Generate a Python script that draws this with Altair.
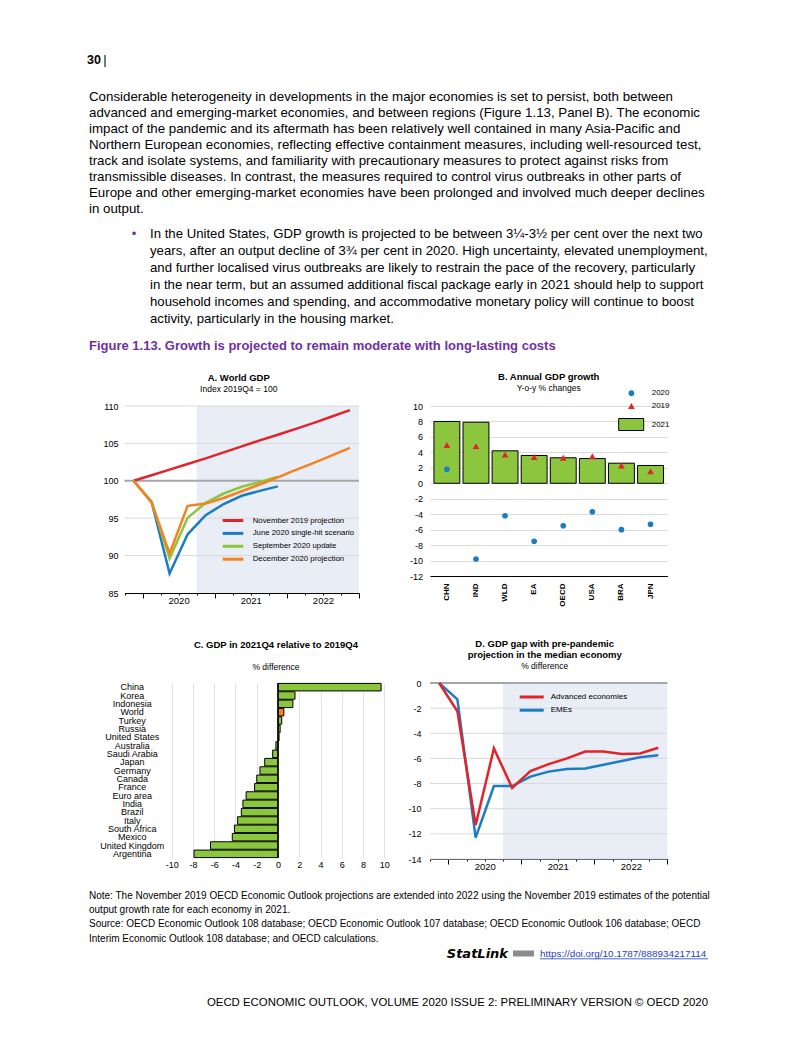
import altair as alt
import pandas as pd

FONT = "Liberation Sans"
RED = "#E3232B"
BLUE = "#1B7CC4"
GREEN = "#8CC63F"
ORANGE = "#F5821F"
SHADE = "#E9EDF5"
GRID = "#D9D9D9"
PURPLE = "#7030A0"
HYPHEN_LABEL = "'' + datum.value"

# ---------------- page text ----------------
page_number = "30"
paragraph = [
    "Considerable heterogeneity in developments in the major economies is set to persist, both between",
    "advanced and emerging-market economies, and between regions (Figure 1.13, Panel B). The economic",
    "impact of the pandemic and its aftermath has been relatively well contained in many Asia-Pacific and",
    "Northern European economies, reflecting effective containment measures, including well-resourced test,",
    "track and isolate systems, and familiarity with precautionary measures to protect against risks from",
    "transmissible diseases. In contrast, the measures required to control virus outbreaks in other parts of",
    "Europe and other emerging-market economies have been prolonged and involved much deeper declines",
    "in output.",
]
bullet = [
    "In the United States, GDP growth is projected to be between 3¼-3½ per cent over the next two",
    "years, after an output decline of 3¾ per cent in 2020. High uncertainty, elevated unemployment,",
    "and further localised virus outbreaks are likely to restrain the pace of the recovery, particularly",
    "in the near term, but an assumed additional fiscal package early in 2021 should help to support",
    "household incomes and spending, and accommodative monetary policy will continue to boost",
    "activity, particularly in the housing market.",
]
figure_title = "Figure 1.13. Growth is projected to remain moderate with long-lasting costs"
notes = [
    "Note: The November 2019 OECD Economic Outlook projections are extended into 2022 using the November 2019 estimates of the potential",
    "output growth rate for each economy in 2021.",
    "Source: OECD Economic Outlook 108 database; OECD Economic Outlook 107 database; OECD Economic Outlook 106 database; OECD",
    "Interim Economic Outlook 108 database; and OECD calculations.",
]
statlink = "StatLink"
statlink_url = "https://doi.org/10.1787/888934217114"
page_footer = "OECD ECONOMIC OUTLOOK, VOLUME 2020 ISSUE 2: PRELIMINARY VERSION © OECD 2020"

# ---------------- Panel A: World GDP (index 2019Q4 = 100) ----------------
a_quarter = [0, 1, 2, 3, 4, 5, 6, 7, 8, 9, 10, 11, 12]   # 2019Q4 ... 2022Q4
a_nov2019 = [100, 100.75, 101.5, 102.25, 103.0, 103.8, 104.6, 105.4, 106.15, 106.95, 107.75, 108.6, 109.45]
a_jun2020 = [100, 97.2, 87.6, 92.85, 95.4, 96.9, 98.0, 98.65, 99.25]
a_sep2020 = [100, 97.2, 89.6, 95.05, 97.05, 98.3, 99.2, 99.85, 100.55]
a_dec2020 = [100, 97.1, 90.3, 96.65, 96.95, 97.7, 98.6, 99.5, 100.45, 101.45, 102.4, 103.4, 104.4]
a_series = ["November 2019 projection", "June 2020 single-hit scenario",
            "September 2020 update", "December 2020 projection"]
a_colors = [RED, BLUE, GREEN, ORANGE]
a_grid = [90, 95, 105, 110]
a_base = [100]
proj_start = [3.5]
proj_end = [12.5]
year_pos = [2.5, 6.5, 10.5]
year_names = ["2020", "2021", "2022"]

# ---------------- Panel B: Annual GDP growth ----------------
b_codes = ["CHN", "IND", "WLD", "EA", "OECD", "USA", "BRA", "JPN"]
b_2021 = [8.0, 7.9, 4.2, 3.6, 3.3, 3.2, 2.6, 2.3]
b_2019 = [4.95, 4.8, 3.7, 3.4, 3.3, 3.5, 2.3, 1.55]
b_2020 = [1.8, -9.8, -4.2, -7.5, -5.5, -3.7, -6.0, -5.3]

# ---------------- Panel C: GDP in 2021Q4 relative to 2019Q4 ----------------
c_names = ["China", "Korea", "Indonesia", "World", "Turkey", "Russia", "United States",
           "Australia", "Saudi Arabia", "Japan", "Germany", "Canada", "France", "Euro area",
           "India", "Brazil", "Italy", "South Africa", "Mexico", "United Kingdom", "Argentina"]
c_values = [9.7, 1.6, 1.4, 0.55, 0.35, 0.2, 0.1, -0.2, -0.5, -1.25, -1.7, -2.0, -2.2, -3.0,
            -3.3, -3.45, -3.8, -4.1, -4.3, -6.35, -7.9]
c_zero = [0]

# ---------------- Panel D: GDP gap with pre-pandemic projection ----------------
d_adv = [0, -2.25, -11.3, -5.2, -8.35, -7.0, -6.45, -6.0, -5.45, -5.45, -5.65, -5.6, -5.15]
d_eme = [0, -1.3, -12.3, -8.2, -8.2, -7.45, -7.05, -6.85, -6.8, -6.5, -6.2, -5.9, -5.75]
d_series = ["Advanced economies", "EMEs"]
d_grid = [-14, -12, -10, -8, -6, -4, -2]
d_base = [0]

one_row = pd.DataFrame({"k": [0]})

# left column cell width; panels A and C sit inside it at these plot offsets
LEFT_W = 421
A_X0, A_X1 = 115.5, 350
C_X0, C_X1 = 162.7, 375.3


def txt(text, x, y, size=8, align="left", weight="normal", color="black",
        font=FONT, style="normal", line_height=None):
    kw = dict(text=text, align=align, baseline="middle", fontSize=size,
              fontWeight=weight, color=color, font=font, fontStyle=style)
    if line_height is not None:
        kw["lineHeight"] = line_height
    return alt.Chart(one_row).mark_text(**kw).encode(x=alt.value(x), y=alt.value(y))


def hline(x1, x2, y, color, width=3):
    return alt.Chart(one_row).mark_rule(color=color, strokeWidth=width).encode(
        x=alt.value(x1), x2=alt.value(x2), y=alt.value(y))


def spacer(w, h):
    return alt.Chart(one_row).mark_rect(opacity=0).encode(
        x=alt.value(0), x2=alt.value(w), y=alt.value(0), y2=alt.value(h)
    ).properties(width=w, height=h)


def panel_title(text, subtitle, offset, sub_pad, dx=0):
    return alt.TitleParams(text=text, subtitle=subtitle, font=FONT, subtitleFont=FONT,
                           fontSize=9.5, subtitleFontSize=8.5, fontWeight="bold",
                           color="black", subtitleColor="black", anchor="middle",
                           frame="group", offset=offset, subtitlePadding=sub_pad,
                           lineHeight=11.7, dx=dx)


label_expr = " : ".join(
    f"datum.value == {p} ? '{n}'" for p, n in zip(year_pos, year_names)) + " : ''"
quarter_axis = alt.Axis(values=[k - 0.5 for k in range(14)], labelExpr=label_expr,
                        tickSize={"condition": {"test": "datum.value % 4 == 0.5", "value": 5},
                                  "value": 2},
                        tickColor="black", domainColor="black", grid=False,
                        labelFontSize=9.5, labelFont=FONT, labelPadding=5, labelAngle=0,
                        labelBaseline="middle",
                        labelOverlap=False, labelFlush=False, title=None)

# ================= Panel A =================
HA = 187
xA = alt.Scale(domain=[-0.5, 12.5], range=[A_X0, A_X1], nice=False, zero=False)
yA = alt.Scale(domain=[85, 110], nice=False, zero=False)
yA_axis = alt.Axis(values=[85, 90, 95, 100, 105, 110], grid=False, domain=False, ticks=False,
                   labelFontSize=9, labelFont=FONT, labelPadding=6.5, title=None,
                   offset=-A_X0)

a_layers = [
    alt.Chart(pd.DataFrame({"s": proj_start, "e": proj_end})).mark_rect(color=SHADE).encode(
        x=alt.X("s:Q", scale=xA, axis=quarter_axis), x2="e:Q",
        y=alt.value(0), y2=alt.value(HA)),
    alt.Chart(pd.DataFrame({"g": a_grid})).mark_rule(color=GRID, strokeWidth=1).encode(
        x=alt.value(A_X0), x2=alt.value(A_X1), y=alt.Y("g:Q", scale=yA, axis=yA_axis)),
    alt.Chart(pd.DataFrame({"g": a_base})).mark_rule(color="#A6A6A6", strokeWidth=2).encode(
        x=alt.value(A_X0), x2=alt.value(A_X1), y=alt.Y("g:Q", scale=yA, axis=yA_axis)),
]
for vals, col in zip([a_nov2019, a_jun2020, a_sep2020, a_dec2020], a_colors):
    df = pd.DataFrame({"q": a_quarter[:len(vals)], "v": vals})
    a_layers.append(alt.Chart(df).mark_line(color=col, strokeWidth=2.5).encode(
        x=alt.X("q:Q", scale=xA, axis=quarter_axis),
        y=alt.Y("v:Q", scale=yA, axis=yA_axis)))
for k, (name, col) in enumerate(zip(a_series, a_colors)):
    yy = 114.5 + 12.9 * k
    a_layers.append(hline(A_X0 + 98.2, A_X0 + 118.8, yy, col, 3))
    a_layers.append(txt(name, A_X0 + 128.2, yy, size=7.8))

chartA = alt.layer(*a_layers).properties(
    width=LEFT_W, height=HA,
    title=panel_title("A. World GDP", "Index 2019Q4 = 100", 9, 2.5,
                      dx=(A_X0 + A_X1) / 2 - LEFT_W / 2 - 3))

# ================= Panel B =================
WB, HB = 237.4, 170
dfB = pd.DataFrame({"code": b_codes, "y2021": b_2021, "y2019": b_2019, "y2020": b_2020})
xB = alt.X("code:N", sort=b_codes,
           scale=alt.Scale(paddingInner=0.11, paddingOuter=0.135),
           axis=alt.Axis(title=None, labelAngle=270, labelFontWeight="bold", labelFontSize=8,
                         labelFont=FONT, ticks=False, domainColor="black", labelPadding=7))
yB_scale = alt.Scale(domain=[-12, 10], nice=False)
yB_axis = alt.Axis(values=list(range(-12, 11, 2)), grid=True, gridColor=GRID, domain=False,
                   ticks=False, labelFontSize=9, labelFont=FONT, labelPadding=7.5, title=None,
                   labelExpr=HYPHEN_LABEL)
b_layers = [
    alt.Chart(dfB).mark_bar(color=GREEN, stroke="black", strokeWidth=1).encode(
        x=xB, y=alt.Y("y2021:Q", scale=yB_scale, axis=yB_axis)),
    alt.Chart(dfB).mark_point(shape="triangle-up", filled=True, color=RED, size=45,
                              opacity=1).encode(
        x=xB, y=alt.Y("y2019:Q", scale=yB_scale, axis=yB_axis)),
    alt.Chart(dfB).mark_point(shape="circle", filled=True, color=BLUE, size=32,
                              opacity=1).encode(
        x=xB, y=alt.Y("y2020:Q", scale=yB_scale, axis=yB_axis)),
    alt.Chart(one_row).mark_point(shape="circle", filled=True, color=BLUE, size=32,
                                  opacity=1).encode(x=alt.value(201.4), y=alt.value(-12.8)),
    alt.Chart(one_row).mark_point(shape="triangle-up", filled=True, color=RED, size=45,
                                  opacity=1).encode(x=alt.value(201.4), y=alt.value(0)),
    alt.Chart(one_row).mark_rect(color=GREEN, stroke="black", strokeWidth=1).encode(
        x=alt.value(188.7), x2=alt.value(213.7), y=alt.value(12.5), y2=alt.value(24.5)),
    txt("2020", 221.7, -12.8, size=8),
    txt("2019", 221.7, 0, size=8),
    txt("2021", 221.7, 18.5, size=8),
]
chartB = alt.layer(*b_layers).properties(
    width=WB, height=HB,
    title=panel_title("B. Annual GDP growth", "Y-o-y % changes", -3, 2.5))

# ================= Panel C =================
HC = 175
dfC = pd.DataFrame({"name": c_names, "value": c_values,
                    "group": ["World" if n == "World" else "Country" for n in c_names]})
xC_scale = alt.Scale(domain=[-10, 10], range=[C_X0, C_X1], nice=False)
xC_axis = alt.Axis(values=list(range(-10, 11, 2)), grid=True, gridColor="#E2E2E8", domain=False,
                   ticks=False, labelFontSize=9, labelFont=FONT, labelPadding=2, title=None,
                   labelFlush=False, labelOverlap=False, labelExpr=HYPHEN_LABEL)
c_layers = [
    alt.Chart(dfC).mark_bar(stroke="black", strokeWidth=1).encode(
        x=alt.X("value:Q", scale=xC_scale, axis=xC_axis),
        y=alt.Y("name:N", sort=c_names, scale=alt.Scale(paddingInner=0.1, paddingOuter=0.05),
                axis=alt.Axis(title=None, ticks=False, domain=False, labelAlign="center",
                              labelPadding=40, labelFontSize=9, labelFont=FONT,
                              labelOverlap=False, offset=-C_X0)),
        color=alt.Color("group:N", scale=alt.Scale(domain=["Country", "World"],
                                                   range=[GREEN, ORANGE]), legend=None)),
    alt.Chart(pd.DataFrame({"z": c_zero})).mark_rule(color="black", strokeWidth=1.5).encode(
        x=alt.X("z:Q", scale=xC_scale, axis=xC_axis)),
]
chartC = alt.layer(*c_layers).properties(
    width=LEFT_W, height=HC,
    title=panel_title("C. GDP in 2021Q4 relative to 2019Q4", "% difference", 11, 13.5,
                      dx=(C_X0 + C_X1) / 2 - LEFT_W / 2 - 2))

# ================= Panel D =================
WD, HD = 237.4, 176
xD = alt.Scale(domain=[-0.5, 12.5], nice=False, zero=False)
yD = alt.Scale(domain=[-14, 0], nice=False, zero=False)
yD_axis = alt.Axis(values=list(range(-14, 1, 2)), grid=False, domain=False, ticks=False,
                   labelFontSize=9, labelFont=FONT, labelPadding=9, title=None,
                   labelExpr=HYPHEN_LABEL)
d_layers = [
    alt.Chart(pd.DataFrame({"s": proj_start, "e": proj_end})).mark_rect(color=SHADE).encode(
        x=alt.X("s:Q", scale=xD, axis=quarter_axis), x2="e:Q",
        y=alt.value(0), y2=alt.value(HD)),
    alt.Chart(pd.DataFrame({"g": d_grid})).mark_rule(color=GRID, strokeWidth=1).encode(
        y=alt.Y("g:Q", scale=yD, axis=yD_axis)),
    alt.Chart(pd.DataFrame({"g": d_base})).mark_rule(color="#A6A6A6", strokeWidth=2).encode(
        y=alt.Y("g:Q", scale=yD, axis=yD_axis)),
]
for vals, col in zip([d_eme, d_adv], [BLUE, RED]):
    df = pd.DataFrame({"q": a_quarter[:len(vals)], "v": vals})
    d_layers.append(alt.Chart(df).mark_line(color=col, strokeWidth=2.5).encode(
        x=alt.X("q:Q", scale=xD, axis=quarter_axis),
        y=alt.Y("v:Q", scale=yD, axis=yD_axis)))
for k, (name, col) in enumerate(zip(d_series, [RED, BLUE])):
    yy = 14 + 13.2 * k
    d_layers.append(hline(89.7, 113.7, yy, col, 3))
    d_layers.append(txt(name, 120.7, yy, size=8))
chartD = alt.layer(*d_layers).properties(
    width=WD, height=HD,
    title=panel_title(["D. GDP gap with pre-pandemic", "projection in the median economy"],
                      "% difference", 7.5, 2, dx=-4))

# ================= header / footer =================
header = alt.layer(
    txt(page_number, 78, 51, size=12.5, weight="bold"),
    txt("|", 96, 51, size=13, align="center"),
    txt(paragraph, 80, 87.7, size=13.3, line_height=16),
    txt("•", 125, 224.7, size=13, align="center", color=PURPLE),
    txt(bullet, 141, 224.7, size=13.2, line_height=17.1),
    txt(figure_title, 80, 337, size=13, weight="bold", color=PURPLE),
).properties(width=1, height=397)

footer = alt.layer(
    txt(notes, 80, 37, size=10, line_height=14.2),
    txt(statlink, 499, 94.7, size=13, weight="bold", style="italic", font="DejaVu Sans",
        align="right"),
    alt.Chart(one_row).mark_rect(color="#8C8C8C").encode(
        x=alt.value(504), x2=alt.value(525), y=alt.value(91.5), y2=alt.value(97.5)),
    txt(statlink_url, 531, 94.7, size=9.9, color="#1F3FBF"),
    hline(531, 699, 99.8, "#1F3FBF", 0.8),
    txt(page_footer, 699, 143.7, size=11.4, align="right"),
).properties(width=1, height=192)

cells = [
    header, spacer(1, 1),
    chartA, chartB,
    spacer(1, 90), spacer(1, 1),
    chartC, chartD,
    footer, spacer(1, 1),
]

chart = alt.concat(*cells, columns=2, spacing=0, bounds="flush", align="none",
                   padding=0).configure(font=FONT).configure_view(stroke="transparent")

chart.save("out.html", embed_options={"renderer": "svg", "actions": False})
